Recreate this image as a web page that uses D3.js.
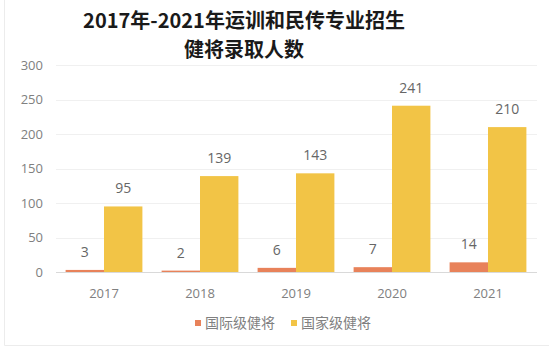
<!DOCTYPE html>
<html>
<head>
<meta charset="utf-8">
<script src="https://cdn.jsdelivr.net/npm/d3@7"></script>
<style>
  body { margin: 0; background: #fff; }
  text { font-family: "Noto Sans CJK SC", "Noto Sans", sans-serif; }
</style>
</head>
<body>
<div id="chart"></div>
<script>
const years = ["2017", "2018", "2019", "2020", "2021"];
const seriesNames = ["国际级健将", "国家级健将"];
const international = [3, 2, 6, 7, 14];
const national = [95, 139, 143, 241, 210];
const yTicks = [0, 50, 100, 150, 200, 250, 300];
const titleLines = ["2017年-2021年运训和民传专业招生", "健将录取人数"];

const colors = ["#E8825A", "#F2C446"];
const width = 555, height = 359;

const svg = d3.select("#chart").append("svg")
  .attr("width", width)
  .attr("height", height);

// faint frame (left and bottom edges only visible)
svg.append("path")
  .attr("d", "M4.5,0 V345.5 H549")
  .attr("fill", "none")
  .attr("stroke", "#ececec");

const x = d3.scaleBand().domain(years).range([56, 536]).paddingInner(0.2).paddingOuter(0.1);
const xInner = d3.scaleBand().domain([0, 1]).range([0, x.bandwidth()]);
const y = d3.scaleLinear().domain([0, 300]).range([272, 65]);

// gridlines
svg.append("g")
  .selectAll("line")
  .data(yTicks)
  .join("line")
  .attr("x1", 56).attr("x2", 537)
  .attr("y1", d => Math.round(y(d)) + 0.5)
  .attr("y2", d => Math.round(y(d)) + 0.5)
  .attr("stroke", d => d === 0 ? "#d9d9d9" : "#f0f0f0");

// y axis labels
const yAxis = svg.append("g")
  .attr("transform", "translate(43,0)")
  .call(d3.axisLeft(y).tickValues(yTicks).tickSize(0).tickPadding(0));
yAxis.select(".domain").remove();
yAxis.selectAll("text")
  .attr("font-size", 13)
  .attr("fill", "#808080")
  .style("font-family", "'Open Sans', 'Noto Sans', sans-serif");

// x axis labels
const xAxis = svg.append("g")
  .attr("transform", "translate(0,289)")
  .call(d3.axisBottom(x).tickSize(0).tickPadding(0));
xAxis.select(".domain").remove();
xAxis.selectAll("text")
  .attr("font-size", 13)
  .attr("fill", "#808080")
  .style("font-family", "'Open Sans', 'Noto Sans', sans-serif");

const rows = years.map((yr, i) => ({ year: yr, values: [international[i], national[i]] }));

const groups = svg.append("g")
  .selectAll("g")
  .data(rows)
  .join("g")
  .attr("transform", d => `translate(${x(d.year)},0)`);

// Excel-like: two bars per category, gap width 50%
const barW = x.step() / 2.5;
const offset = (x.bandwidth() - 2 * barW) / 2;

groups.selectAll("rect")
  .data(d => d.values.map((v, k) => ({ v, k })))
  .join("rect")
  .attr("x", d => offset + d.k * barW)
  .attr("width", barW)
  .attr("y", d => y(d.v))
  .attr("height", d => y(0) - y(d.v))
  .attr("fill", d => colors[d.k]);

groups.selectAll("text.val")
  .data(d => d.values.map((v, k) => ({ v, k })))
  .join("text")
  .attr("class", "val")
  .attr("x", d => offset + d.k * barW + barW / 2)
  .attr("y", d => y(d.v) - 13)
  .attr("text-anchor", "middle")
  .attr("font-size", 14)
  .attr("fill", "#666")
  .style("font-family", "'Open Sans', 'Noto Sans', sans-serif")
  .text(d => d.v);

// title
svg.append("g")
  .selectAll("text")
  .data(titleLines)
  .join("text")
  .attr("x", 244)
  .attr("y", (d, i) => 28 + i * 29)
  .attr("text-anchor", "middle")
  .attr("font-size", 20)
  .attr("font-weight", "bold")
  .attr("fill", "#1a1a1a")
  .text(d => d);

// legend
const legend = svg.append("g");
const legendX = [195, 291];
seriesNames.forEach((name, i) => {
  legend.append("rect")
    .attr("x", legendX[i]).attr("y", 320)
    .attr("width", 6).attr("height", 6)
    .attr("fill", colors[i]);
  legend.append("text")
    .attr("x", legendX[i] + 10).attr("y", 328)
    .attr("font-size", 14)
    .attr("fill", "#808080")
    .text(name);
});
</script>
</body>
</html>
